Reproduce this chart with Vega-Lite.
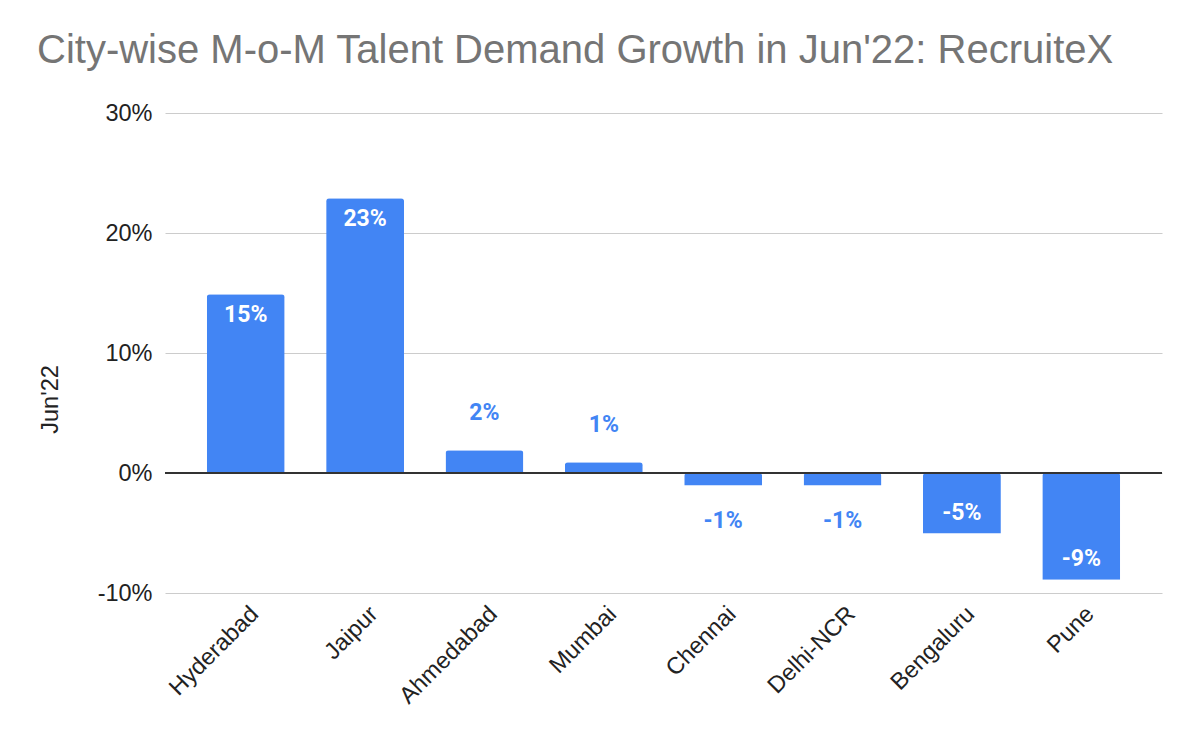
{
  "$schema": "https://vega.github.io/schema/vega-lite/v6.json",
  "width": 997,
  "height": 480,
  "autosize": {"type": "none"},
  "padding": {"left": 165, "top": 113, "right": 38, "bottom": 149},
  "background": "#ffffff",
  "title": {
    "text": "City-wise M-o-M Talent Demand Growth in Jun'22: RecruiteX",
    "anchor": "start",
    "frame": "group",
    "dx": -128,
    "dy": 40,
    "offset": 38,
    "baseline": "alphabetic",
    "font": "Liberation Sans",
    "fontSize": 40,
    "fontWeight": "normal",
    "color": "#757575"
  },
  "config": {
    "view": {"stroke": null},
    "locale": {"number": {"decimal": ".", "thousands": ",", "grouping": [3], "currency": ["$", ""], "minus": "-"}}
  },
  "data": {
    "values": [
      {"city": "Hyderabad", "growth": 0.149},
      {"city": "Jaipur", "growth": 0.229},
      {"city": "Ahmedabad", "growth": 0.019},
      {"city": "Mumbai", "growth": 0.009},
      {"city": "Chennai", "growth": -0.0105},
      {"city": "Delhi-NCR", "growth": -0.0105},
      {"city": "Bengaluru", "growth": -0.0505},
      {"city": "Pune", "growth": -0.089}
    ]
  },
  "encoding": {
    "x": {
      "field": "city",
      "type": "nominal",
      "sort": null,
      "scale": {"paddingInner": 0.347, "paddingOuter": 0.35},
      "axis": {
        "title": null,
        "labelAngle": -45,
        "labelAlign": "right",
        "labelBaseline": "middle",
        "labelFont": "Liberation Sans",
        "labelFontSize": 23.5,
        "labelColor": "#222222",
        "labelPadding": 17,
        "labelOffset": 9,
        "ticks": false,
        "domain": false,
        "grid": false
      }
    },
    "y": {
      "field": "growth",
      "type": "quantitative",
      "scale": {"domain": [-0.1, 0.3], "nice": false, "zero": false},
      "axis": {
        "values": [-0.1, 0, 0.1, 0.2, 0.3],
        "format": ".0%",
        "title": "Jun'22",
        "titleFont": "Liberation Sans",
        "titleFontSize": 23.5,
        "titleFontWeight": "normal",
        "titleColor": "#222222",
        "titleAngle": 270,
        "titleAlign": "center",
        "titleBaseline": "alphabetic",
        "titleX": -108,
        "titleY": 286,
        "labelFont": "Liberation Sans",
        "labelFontSize": 23.5,
        "labelColor": "#222222",
        "labelPadding": 13,
        "ticks": false,
        "domain": false,
        "grid": true,
        "gridColor": "#cccccc",
        "gridWidth": 1
      }
    }
  },
  "layer": [
    {"mark": {"type": "bar", "color": "#4285F4", "cornerRadiusEnd": 3}},
    {
      "mark": {"type": "rule", "color": "#333333", "strokeWidth": 2},
      "encoding": {"y": {"datum": 0}, "x": null}
    },
    {
      "transform": [{"filter": "datum.growth >= 0.03"}],
      "mark": {"type": "text", "baseline": "alphabetic", "dy": 28, "color": "#ffffff", "font": "Roboto", "fontWeight": "bold", "fontSize": 23},
      "encoding": {"text": {"field": "growth", "format": ".0%"}}
    },
    {
      "transform": [{"filter": "datum.growth >= 0 && datum.growth < 0.03"}],
      "mark": {"type": "text", "baseline": "alphabetic", "dy": -30, "color": "#4285F4", "font": "Roboto", "fontWeight": "bold", "fontSize": 23},
      "encoding": {"text": {"field": "growth", "format": ".0%"}}
    },
    {
      "transform": [{"filter": "datum.growth < 0 && datum.growth > -0.03"}],
      "mark": {"type": "text", "baseline": "alphabetic", "dy": 42, "color": "#4285F4", "font": "Roboto", "fontWeight": "bold", "fontSize": 23},
      "encoding": {"text": {"field": "growth", "format": ".0%"}}
    },
    {
      "transform": [{"filter": "datum.growth <= -0.03"}],
      "mark": {"type": "text", "baseline": "alphabetic", "dy": -14, "color": "#ffffff", "font": "Roboto", "fontWeight": "bold", "fontSize": 23},
      "encoding": {"text": {"field": "growth", "format": ".0%"}}
    }
  ]
}
